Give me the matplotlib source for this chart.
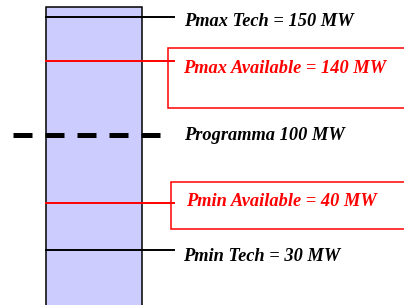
import matplotlib.pyplot as plt
from matplotlib.patches import Rectangle

# levels of the unit (MW)
labels = ['Pmax Tech', 'Pmax Available', 'Programma', 'Pmin Available', 'Pmin Tech']
values = [150, 140, 100, 40, 30]
colors = ['black', 'red', 'black', 'red', 'black']

# layout (pixel coords, schematic, not to scale)
y_pos = [16.5, 61, 135, 202.5, 249.5]
text_x = [184, 183, 184, 186, 183]
text_dy = [5.5, 7.5, 1, -0.5, 7]
boxes = {1: (167.5, 47.5, 240, 60.5), 3: (170.5, 181.5, 240, 47.5)}

fig = plt.figure(figsize=(4.04, 3.05), dpi=100)
ax = fig.add_axes([0, 0, 1, 1])
ax.set_xlim(0, 404)
ax.set_ylim(305, 0)
ax.axis('off')

# the unit's range bar
ax.add_patch(Rectangle((45.5, 6.5), 96.5, 310, facecolor='#CCCCFF',
                       edgecolor='black', linewidth=1.1))

for i, (lab, val, col, y) in enumerate(zip(labels, values, colors, y_pos)):
    if i in boxes:
        bx, by, bw, bh = boxes[i]
        ax.add_patch(Rectangle((bx, by), bw, bh, facecolor='white',
                               edgecolor='red', linewidth=1.1, zorder=3))
    if lab == 'Programma':
        ax.plot([13, 161], [y, y], color='black', linewidth=3.6,
                dashes=(3.8, 2.6), dash_capstyle='butt', zorder=4)
        txt = f'{lab} {val} MW'
    else:
        ax.plot([45.5, 174], [y, y], color=col, linewidth=1.4, zorder=4)
        txt = f'{lab} = {val} MW'
    ax.text(text_x[i], y + text_dy[i], txt, color=col, fontsize=13.2,
            family='Liberation Serif', weight='bold', style='italic',
            va='center', ha='left', zorder=5)

fig.savefig('out.png', dpi=100)
